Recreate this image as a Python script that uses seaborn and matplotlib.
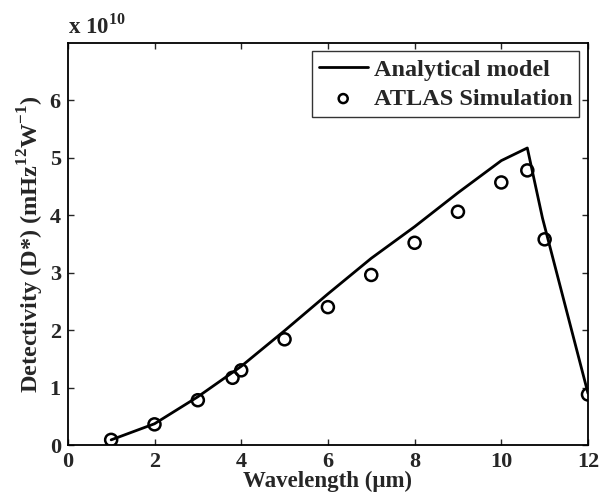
import matplotlib
matplotlib.use("Agg")
import matplotlib.pyplot as plt
import seaborn as sns
import pandas as pd

sns.set_theme(style="white")
plt.rcParams['font.family'] = ['Liberation Serif', 'DejaVu Serif']
plt.rcParams['font.weight'] = 'bold'
plt.rcParams['mathtext.fontset'] = 'custom'
plt.rcParams['mathtext.rm'] = 'Liberation Serif:bold'
plt.rcParams['mathtext.bf'] = 'Liberation Serif:bold'

# Analytical model (units of 1e10)
model_x = [1, 2, 3, 4, 5, 6, 7, 8, 9, 10, 10.6, 10.95, 12]
model_y = [0.09, 0.37, 0.84, 1.37, 1.99, 2.63, 3.25, 3.80, 4.39, 4.95, 5.17, 3.95, 0.90]

# ATLAS Simulation (units of 1e10)
sim_x = [1, 2, 3, 3.8, 4, 5, 6, 7, 8, 9, 10, 10.6, 11, 12]
sim_y = [0.09, 0.36, 0.78, 1.17, 1.30, 1.84, 2.40, 2.96, 3.52, 4.06, 4.57, 4.78, 3.58, 0.88]

xticks = [0, 2, 4, 6, 8, 10, 12]
yticks = [0, 1, 2, 3, 4, 5, 6]

df_model = pd.DataFrame({"x": model_x, "y": model_y})
df_sim = pd.DataFrame({"x": sim_x, "y": sim_y})

fig = plt.figure(figsize=(6, 5.04), dpi=100)
ax = fig.add_axes([0.113, 0.117, 0.867, 0.798])

sns.lineplot(data=df_model, x="x", y="y", ax=ax, color="black", linewidth=2.0,
             label="Analytical model", sort=False)
sns.scatterplot(data=df_sim, x="x", y="y", ax=ax, marker="o", s=75,
                facecolor="none", edgecolor="black", linewidth=1.8,
                label="ATLAS Simulation", zorder=3)

ax.set_xlim(0, 12)
ax.set_ylim(0, 7)
ax.set_xticks(xticks)
ax.set_yticks(yticks)
ax.set_xticklabels([str(t) for t in xticks], fontsize=16, fontweight='bold')
ax.set_yticklabels([str(t) for t in yticks], fontsize=16, fontweight='bold')
ax.tick_params(direction='in', length=4, width=1, top=True, right=True,
               bottom=True, left=True, pad=5)
for s in ax.spines.values():
    s.set_linewidth(1.3)
    s.set_color('black')

ax.set_xlabel("Wavelength (μm)", fontsize=16.5, fontweight='bold', labelpad=-1)
ax.set_ylabel(r"Detectivity (D*) (mHz$^{\mathbf{12}}$W$^{\mathbf{-1}}$)",
              fontsize=17.5, fontweight='bold', labelpad=3)

ax.text(0.0, 1.012, r"x 10$^{\mathbf{10}}$", transform=ax.transAxes,
        fontsize=16.5, fontweight='bold', ha='left', va='bottom')

leg = ax.legend(loc='upper right', fontsize=17.5, frameon=True, fancybox=False,
                borderaxespad=0.35, handlelength=2.0, handletextpad=0.25,
                borderpad=0.3, labelspacing=0.3, markerscale=0.75)
leg.get_frame().set_edgecolor('black')
leg.get_frame().set_linewidth(1.0)
for t in leg.get_texts():
    t.set_fontweight('bold')

fig.savefig("out.png", dpi=100)
